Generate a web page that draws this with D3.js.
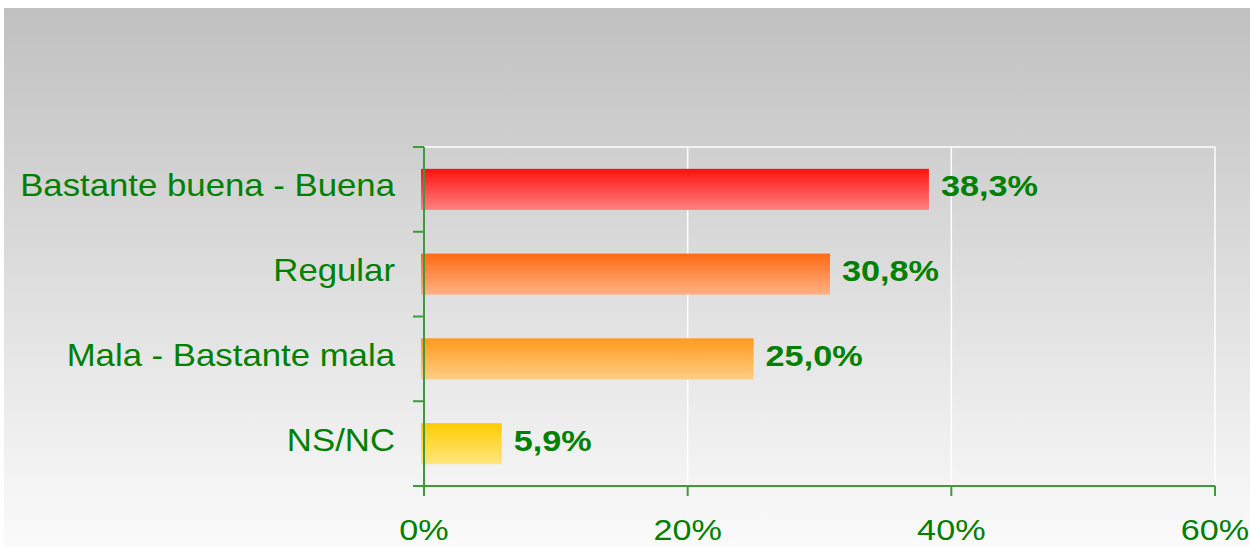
<!DOCTYPE html>
<html>
<head>
<meta charset="utf-8">
<script src="https://cdn.jsdelivr.net/npm/d3@7"></script>
<style>
  html, body { margin: 0; padding: 0; background: #ffffff; }
  svg { display: block; }
  text { font-family: "Liberation Sans", Arial, sans-serif; }
</style>
</head>
<body>
<svg id="chart" width="1250" height="547"></svg>
<script>
// Valoración: reparto de respuestas (%)
const categories = ["Bastante buena - Buena", "Regular", "Mala - Bastante mala", "NS/NC"];
const values = [38.3, 30.8, 25.0, 5.9];
const valueLabels = ["38,3%", "30,8%", "25,0%", "5,9%"];
const tickValues = [0, 20, 40, 60];
const tickLabels = ["0%", "20%", "40%", "60%"];
const barTopColors = ["#ff1010", "#ff6a14", "#ff9a1c", "#ffcc00"];
const barBottomColors = ["#ff8080", "#ffb184", "#ffcd84", "#ffe680"];

const W = 1250, H = 547;
const plot = { left: 424, right: 1215, top: 147, bottom: 486 };
const green = "#008000";
const axisGreen = "#3d9a3d";
const textStretch = 1.14;
const boldStretch = 1.18;

const svg = d3.select("#chart");
const defs = svg.append("defs");

// Background panel gradient
const bg = defs.append("linearGradient")
  .attr("id", "bgGrad").attr("x1", 0).attr("y1", 0).attr("x2", 0).attr("y2", 1);
bg.append("stop").attr("offset", "0%").attr("stop-color", "#c0c0c0");
bg.append("stop").attr("offset", "100%").attr("stop-color", "#fbfbfb");

svg.append("rect")
  .attr("x", 4).attr("y", 8).attr("width", W - 4).attr("height", H - 8)
  .attr("fill", "url(#bgGrad)");

// Bar gradients
categories.forEach((c, i) => {
  const g = defs.append("linearGradient")
    .attr("id", "barGrad" + i).attr("x1", 0).attr("y1", 0).attr("x2", 0).attr("y2", 1);
  g.append("stop").attr("offset", "0%").attr("stop-color", barTopColors[i]);
  g.append("stop").attr("offset", "100%").attr("stop-color", barBottomColors[i]);
});

const x = d3.scaleLinear().domain([0, 60]).range([plot.left, plot.right]);
const y = d3.scaleBand().domain(categories).range([plot.top, plot.bottom])
  .paddingInner(0.515).paddingOuter(0.2575);
const yOuter = d3.scaleBand().domain(categories).range([plot.top, plot.bottom]);

// White gridlines
svg.append("g").selectAll("line.v")
  .data(tickValues.slice(1))
  .join("line")
  .attr("x1", d => x(d)).attr("x2", d => x(d))
  .attr("y1", plot.top).attr("y2", plot.bottom)
  .attr("stroke", "#ffffff").attr("stroke-width", 1.5);
svg.append("line")
  .attr("x1", plot.left).attr("x2", plot.right)
  .attr("y1", plot.top).attr("y2", plot.top)
  .attr("stroke", "#ffffff").attr("stroke-width", 1.5);

// Bars
svg.append("g").selectAll("rect")
  .data(categories)
  .join("rect")
  .attr("x", x(0) - 3)
  .attr("y", d => y(d))
  .attr("width", (d, i) => x(values[i]) - x(0) + 3)
  .attr("height", y.bandwidth())
  .attr("fill", (d, i) => "url(#barGrad" + i + ")");

// Value labels
svg.append("g").selectAll("text")
  .data(categories)
  .join("text")
  .attr("transform", (d, i) => `translate(${x(values[i]) + 12},${y(d) + y.bandwidth() / 2 + 7}) scale(${boldStretch},1)`)
  .attr("fill", green)
  .attr("font-weight", "bold")
  .attr("font-size", 29)
  .text((d, i) => valueLabels[i]);

// Y axis (category)
svg.append("line")
  .attr("x1", plot.left).attr("x2", plot.left)
  .attr("y1", plot.top).attr("y2", plot.bottom + 10)
  .attr("stroke", axisGreen).attr("stroke-width", 2);
svg.append("g").selectAll("line")
  .data(categories.concat([null]))
  .join("line")
  .attr("x1", plot.left - 11).attr("x2", plot.left)
  .attr("y1", (d, i) => plot.top + i * yOuter.step())
  .attr("y2", (d, i) => plot.top + i * yOuter.step())
  .attr("stroke", axisGreen).attr("stroke-width", 2);

// Category labels
svg.append("g").selectAll("text")
  .data(categories)
  .join("text")
  .attr("transform", d => `translate(395,${yOuter(d) + yOuter.bandwidth() / 2 + 7}) scale(${textStretch},1)`)
  .attr("text-anchor", "end")
  .attr("fill", green)
  .attr("font-size", 30.5)
  .text(d => d);

// X axis
svg.append("line")
  .attr("x1", plot.left - 11).attr("x2", plot.right)
  .attr("y1", plot.bottom).attr("y2", plot.bottom)
  .attr("stroke", axisGreen).attr("stroke-width", 2);
svg.append("g").selectAll("line")
  .data(tickValues)
  .join("line")
  .attr("x1", d => x(d)).attr("x2", d => x(d))
  .attr("y1", plot.bottom).attr("y2", plot.bottom + 10)
  .attr("stroke", axisGreen).attr("stroke-width", 2);
svg.append("g").selectAll("text")
  .data(tickValues)
  .join("text")
  .attr("transform", d => `translate(${x(d)},540) scale(${textStretch},1)`)
  .attr("text-anchor", "middle")
  .attr("fill", green)
  .attr("font-size", 30)
  .text((d, i) => tickLabels[i]);
</script>
</body>
</html>
